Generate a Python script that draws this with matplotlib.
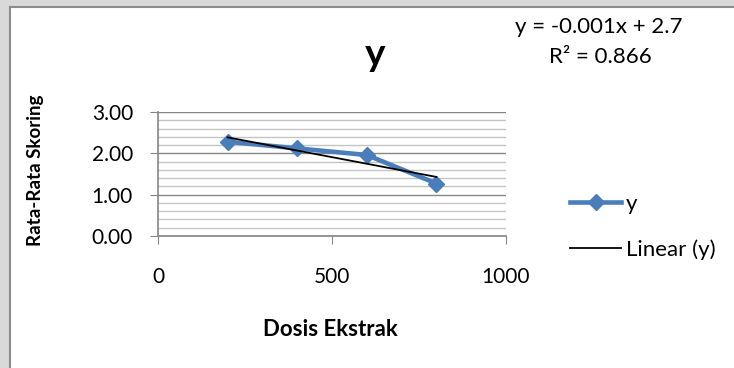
import numpy as np
import matplotlib
matplotlib.use("Agg")
import matplotlib.pyplot as plt
from matplotlib.patches import Rectangle
from matplotlib.lines import Line2D

# data
dosis = [200, 400, 600, 800]
skor = [2.28, 2.12, 1.96, 1.27]
eq_text = "y = -0.001x + 2.7"
r2_text = "R² = 0.866"

plt.rcParams['font.family'] = ['Lato', 'DejaVu Sans']

W, H = 734, 368
fig = plt.figure(figsize=(W / 100, H / 100), dpi=100)
fig.patch.set_facecolor('white')

# gray page frame at top and left
fig.patches.append(Rectangle((0, 0), 9 / W, 1, transform=fig.transFigure, color='#d9d9d9', zorder=0))
fig.patches.append(Rectangle((0, 1 - 6 / H), 1, 6 / H, transform=fig.transFigure, color='#d9d9d9', zorder=0))
fig.lines.append(Line2D([9.5 / W, 9.5 / W], [0, 1 - 6.5 / H], transform=fig.transFigure, color='#8c8c8c', lw=1.5))
fig.lines.append(Line2D([9.5 / W, 1], [1 - 6.5 / H, 1 - 6.5 / H], transform=fig.transFigure, color='#8c8c8c', lw=1.5))

ax = fig.add_axes([158 / W, 1 - 236 / H, 348 / W, 124 / H])
ax.set_xlim(0, 1000)
ax.set_ylim(0, 3)

# gridlines
ax.set_yticks([0, 1, 2, 3])
ax.set_yticks(np.arange(0, 3.01, 0.2), minor=True)
ax.grid(axis='y', which='major', color='#868686', lw=1)
ax.grid(axis='y', which='minor', color='#c4c4c4', lw=1)
ax.set_axisbelow(True)
ax.set_xticks([0, 500, 1000])
ax.set_yticklabels(['%.2f' % v for v in [0, 1, 2, 3]])

for s in ['top', 'right']:
    ax.spines[s].set_visible(False)
for s in ['left', 'bottom']:
    ax.spines[s].set_color('#868686')
    ax.spines[s].set_linewidth(1.2)
ax.tick_params(axis='y', which='major', length=6, color='#868686', pad=12, labelsize=15)
ax.tick_params(axis='y', which='minor', length=0)
ax.tick_params(axis='x', length=6, color='#868686', pad=16, labelsize=15)

# series and linear trend
ax.plot(dosis, skor, color='#4a7ebb', lw=3.3, marker='D', markersize=8.5, clip_on=False, zorder=3, label='y')
k, b = np.polyfit(dosis, skor, 1)
ax.plot([dosis[0], dosis[-1]], [k * dosis[0] + b, k * dosis[-1] + b], color='black', lw=1.3, zorder=4, label='Linear (y)')

fig.text(375 / W, 1 - 55 / H, 'y', ha='center', va='center', fontsize=28, fontweight='bold')
ax.set_ylabel('Rata-Rata Skoring', fontsize=13.5, fontweight='bold')
ax.yaxis.set_label_coords((44 - 158) / 348, 0.53)
ax.set_xlabel('Dosis Ekstrak', fontsize=16, fontweight='bold')
ax.xaxis.set_label_coords((330 - 158) / 348, -(319 - 236) / 124)

fig.text(599 / W, 1 - 27 / H, eq_text, ha='center', va='center', fontsize=16)
fig.text(600 / W, 1 - 57 / H, r2_text, ha='center', va='center', fontsize=16)

h, l = ax.get_legend_handles_labels()
fig.legend(h, l, loc='center left', bbox_to_anchor=(570 / W, 1 - 227 / H), frameon=False,
           fontsize=16, handlelength=2.3, handletextpad=0.2, labelspacing=1.15,
           borderpad=0, borderaxespad=0)

fig.savefig('out.png', dpi=100)
